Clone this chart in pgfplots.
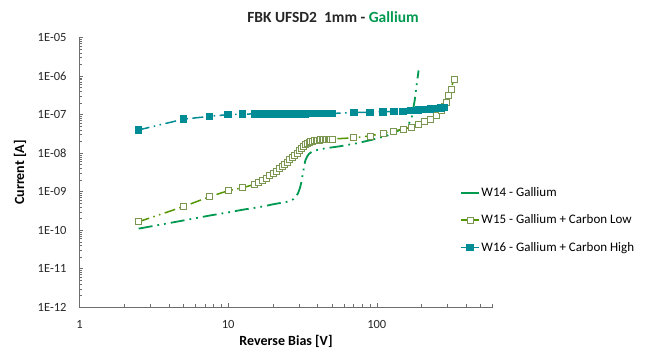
\documentclass[border=0pt]{standalone}
\usepackage{pgfplots}
\pgfplotsset{compat=1.18}
\usepackage{fontspec}
\setmainfont{Carlito}

\definecolor{gal}{RGB}{0,153,80}
\definecolor{w15line}{RGB}{84,150,0}
\definecolor{w15mark}{RGB}{122,150,80}
\definecolor{w16}{RGB}{0,140,149}
\definecolor{axgray}{RGB}{110,110,110}

\begin{document}
\begin{tikzpicture}
\useasboundingbox (-79.5pt,-54.7pt) rectangle (584.5pt,307.3pt);
\begin{axis}[
    at={(0pt,0pt)}, anchor=south west,
    scale only axis,
    width=413pt, height=269.8pt,
    xmode=log, ymode=log,
    xmin=1, xmax=600,
    ymin=1e-12, ymax=1e-5,
    axis lines=left,
    axis line style={-, draw=axgray, line width=0.8pt},
    tick style={draw=axgray, line width=0.6pt},
    tick align=inside,
    major tick length=4pt, minor tick length=3pt,
    xtick={1,10,100}, xticklabels={1,10,100},
    minor xtick={2,3,4,5,6,7,8,9,20,30,40,50,60,70,80,90,200,300,400,500,600},
    ytick={1e-12,1e-11,1e-10,1e-9,1e-8,1e-7,1e-6,1e-5},
    yticklabels={1E-12,1E-11,1E-10,1E-09,1E-08,1E-07,1E-06,1E-05},
    minor ytick={2e-12,3e-12,4e-12,5e-12,6e-12,7e-12,8e-12,9e-12,
                 2e-11,3e-11,4e-11,5e-11,6e-11,7e-11,8e-11,9e-11,
                 2e-10,3e-10,4e-10,5e-10,6e-10,7e-10,8e-10,9e-10,
                 2e-9,3e-9,4e-9,5e-9,6e-9,7e-9,8e-9,9e-9,
                 2e-8,3e-8,4e-8,5e-8,6e-8,7e-8,8e-8,9e-8,
                 2e-7,3e-7,4e-7,5e-7,6e-7,7e-7,8e-7,9e-7,
                 2e-6,3e-6,4e-6,5e-6,6e-6,7e-6,8e-6,9e-6},
    tick label style={font=\fontsize{12.5}{14}\selectfont, text=black!85},
    xticklabel style={anchor=center, yshift=-17.5pt},
    yticklabel style={anchor=east, inner xsep=0pt, xshift=-12.8pt},
    xlabel={Reverse Bias [V]},
    ylabel={Current [A]},
    every axis x label/.style={at={(axis description cs:0.5,-0.125)}, anchor=center,
        font=\bfseries\fontsize{14}{16}\selectfont},
    every axis y label/.style={at={(axis description cs:-0.144,0.5)}, rotate=90, anchor=center,
        font=\bfseries\fontsize{14}{16}\selectfont},
    legend style={at={(0.915,0.46)}, anchor=north west, draw=none, fill=none,
        font=\fontsize{13}{15}\selectfont, row sep=13pt,
        /tikz/every even column/.append style={column sep=2pt}},
    legend cell align=left,
    clip=false,
]
% W14 - Gallium
\addplot[color=gal, line width=1.8pt,
    dash pattern=on 14pt off 5pt on 1.8pt off 5pt on 1.8pt off 5pt,
    legend image post style={solid}] coordinates {
    (2.5,1.1e-10) (5,1.79e-10) (7.5,2.4e-10) (10,2.9e-10) (12.5,3.4e-10)
    (15,3.8e-10) (17.5,4.2e-10) (20,4.7e-10) (22.5,5.1e-10) (25,5.5e-10)
    (27.5,6.4e-10) (28.5,7.5e-10) (29.5,9e-10) (30.5,1.3e-9) (31,1.7e-9)
    (31.5,2.4e-9) (32,3.4e-9) (32.5,4.8e-9) (33,6.3e-9) (34,8.2e-9)
    (35,9.6e-9) (36.5,1.08e-8) (38,1.15e-8) (41,1.25e-8) (46,1.35e-8)
    (56,1.5e-8) (73,1.8e-8) (92,2.2e-8) (116,2.8e-8) (143,4e-8)
    (163,5.4e-8) (172,8.8e-8) (180,2.4e-7) (184,4.8e-7) (191,1.4e-6)
};
\addlegendentry{W14 - Gallium}
% W15 - Gallium + Carbon Low
\addplot[color=w15line, line width=1.5pt,
    dash pattern=on 11pt off 4.5pt on 1.5pt off 4.5pt on 1.5pt off 4.5pt,
    mark=square*, mark size=3pt,
    mark options={solid, draw=w15mark, fill=white, line width=0.8pt},
    legend image post style={solid}] coordinates {
    (2.5,1.66e-10) (5,4.1e-10) (7.5,7.4e-10) (10,1.06e-9) (12.5,1.26e-9)
    (15,1.55e-9) (16,1.75e-9) (17,1.95e-9) (18,2.2e-9) (19,2.6e-9)
    (20,2.95e-9) (21,3.4e-9) (22,3.9e-9) (23,4.4e-9) (24,5.1e-9)
    (25,5.9e-9) (26,6.8e-9) (27,7.8e-9) (28,8.9e-9) (29,1.0e-8)
    (30,1.15e-8) (31,1.3e-8) (32,1.5e-8) (33,1.65e-8) (34,1.8e-8)
    (35,1.9e-8) (36,2.0e-8) (37,2.05e-8) (38,2.1e-8) (39,2.15e-8)
    (40,2.18e-8) (41,2.2e-8) (42,2.21e-8) (43,2.22e-8) (44,2.23e-8)
    (45,2.25e-8) (46,2.26e-8) (47,2.27e-8) (48,2.28e-8) (49,2.3e-8)
    (50,2.32e-8) (70,2.5e-8) (90,2.8e-8) (110,3.3e-8) (130,3.7e-8)
    (150,4.2e-8) (170,4.7e-8) (190,5.6e-8) (210,6.8e-8) (230,7.7e-8)
    (250,9.6e-8) (270,1.25e-7) (285,1.65e-7) (295,2.1e-7) (305,3.1e-7)
    (315,4.5e-7) (330,8.3e-7)
};
\addlegendentry{W15 - Gallium + Carbon Low}
% W16 - Gallium + Carbon High
\addplot[color=w16, line width=1.5pt,
    dash pattern=on 11pt off 4.5pt on 1.5pt off 4.5pt on 1.5pt off 4.5pt,
    mark=square*, mark size=3pt,
    mark options={solid, fill=w16},
    legend image post style={solid}] coordinates {
    (2.5,4.0e-8) (5,7.6e-8) (7.5,9.0e-8) (10,1.0e-7) (12.5,1.03e-7)
    (15,1.04e-7) (16,1.04e-7) (17,1.04e-7) (18,1.04e-7) (19,1.04e-7)
    (20,1.04e-7) (21,1.04e-7) (22,1.05e-7) (23,1.05e-7) (24,1.05e-7)
    (25,1.05e-7) (26,1.05e-7) (27,1.05e-7) (28,1.05e-7) (29,1.05e-7)
    (30,1.05e-7) (31,1.05e-7) (32,1.05e-7) (33,1.05e-7) (34,1.06e-7)
    (35,1.06e-7) (36,1.06e-7) (37,1.06e-7) (38,1.06e-7) (39,1.06e-7)
    (40,1.06e-7) (41,1.06e-7) (42,1.06e-7) (43,1.06e-7) (44,1.07e-7)
    (45,1.07e-7) (46,1.07e-7) (47,1.07e-7) (48,1.07e-7) (49,1.07e-7)
    (50,1.07e-7) (70,1.13e-7) (90,1.15e-7) (110,1.18e-7) (130,1.2e-7)
    (150,1.22e-7) (170,1.26e-7) (190,1.32e-7) (210,1.36e-7) (230,1.4e-7)
    (250,1.44e-7) (270,1.48e-7) (285,1.52e-7)
};
\addlegendentry{W16 - Gallium + Carbon High}
\end{axis}
\node[font=\bfseries\fontsize{15.5}{18}\selectfont, text=black!85] at (253.5pt,290.3pt)
    {FBK UFSD2\ \ 1mm - \textcolor{gal}{Gallium}};
\end{tikzpicture}
\end{document}
